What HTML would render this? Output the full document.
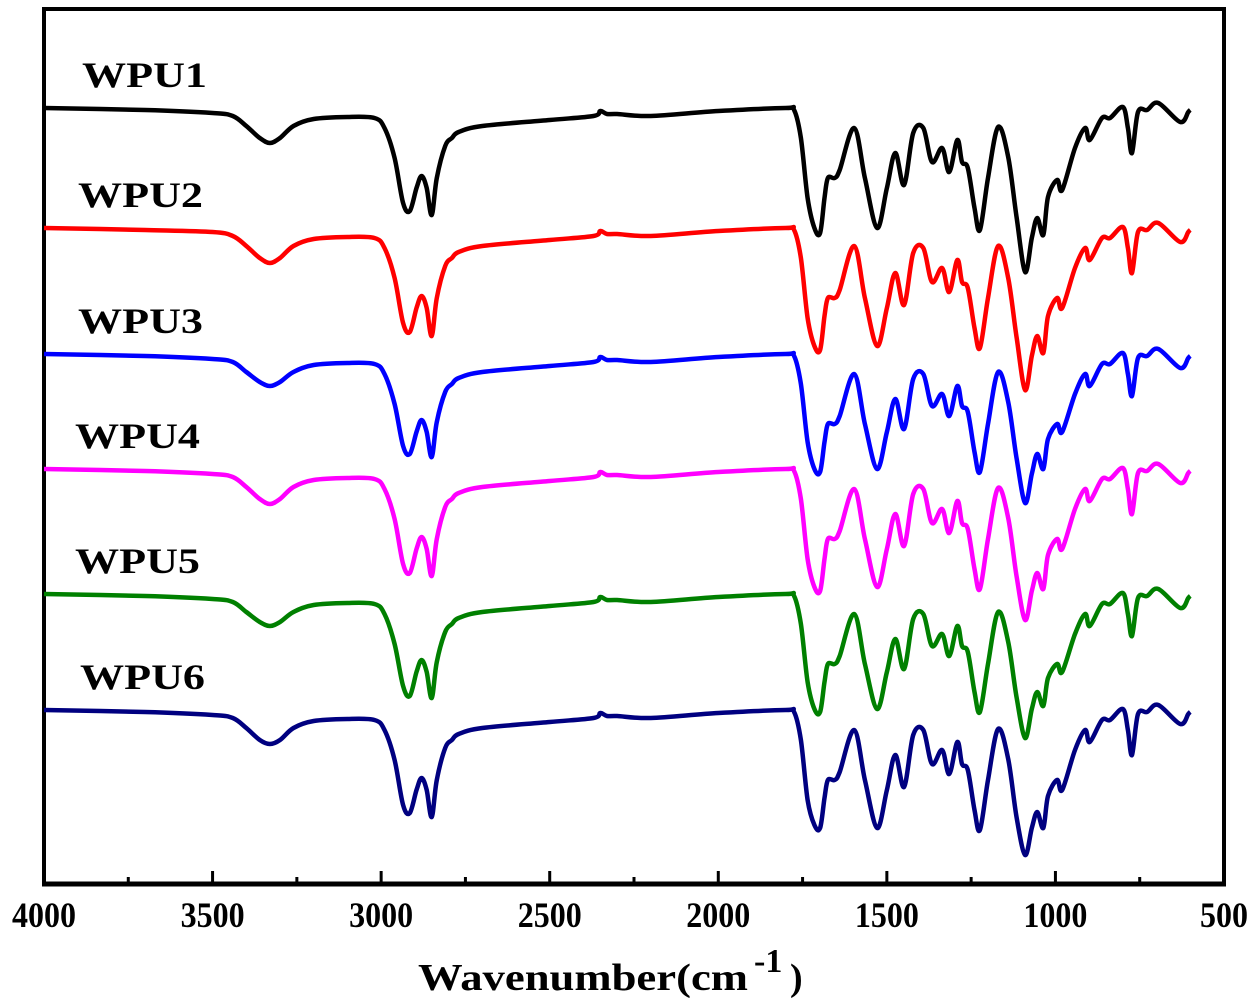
<!DOCTYPE html>
<html><head><meta charset="utf-8"><style>
html,body{margin:0;padding:0;background:#fff;}
svg{display:block;}
text{font-family:"Liberation Serif",serif;font-weight:bold;fill:#000;}
</style></head><body>
<svg id="chart" width="1257" height="1001" viewBox="0 0 1257 1001" xmlns="http://www.w3.org/2000/svg">
<rect x="44" y="9" width="1180" height="875" fill="none" stroke="#000" stroke-width="4"/>
<line x1="42" y1="884" x2="1226" y2="884" stroke="#000" stroke-width="5"/>
<g id="ticks"></g>
<g id="ticklabels"></g>
<text x="418" y="990" font-size="38" textLength="330" lengthAdjust="spacingAndGlyphs">Wavenumber(cm</text>
<text x="754" y="972" font-size="34">-1</text>
<text x="790" y="990" font-size="38">)</text>
<g id="series"></g>
<g id="labels"></g>
</svg>
<script>
const wavenumbers=[4000,3700,3500,3440,3400,3360,3330,3300,3260,3200,3100,3020,2990,2960,2935,2915,2895,2880,2865,2850,2835,2810,2790,2770,2700,2500,2370,2350,2330,2300,2200,2000,1800,1775,1755,1735,1715,1698,1685,1675,1655,1640,1597,1565,1529,1500,1475,1449,1422,1392,1366,1336,1315,1291,1277,1260,1240,1224,1200,1170,1140,1115,1090,1070,1054,1036,1022,995,980,942,912,898,862,838,800,785,773,755,728,695,630,606,600];
const wpu1=[0,2,5,8,18,30,35,30,18,11,9,10,20,50,95,103,80,68,80,107,70,38,30,24,18,12,8,3,6,6,8,3,0,2,30,90,120,125,90,70,70,62,20,70,120,80,45,77,25,20,54,40,64,32,54,60,100,122,70,19,49,110,164,130,110,127,89,72,82,40,20,32,10,10,-1,20,45,4,2,-5,14,4,2];
const wpu2=[0,2,4,8,18,30,35,30,18,11,9,10,20,50,95,104,80,68,80,108,70,38,30,24,18,12,8,3,6,6,8,3,0,2,30,90,118,122,88,70,70,62,18,70,118,80,45,77,25,20,54,40,64,32,54,60,100,120,70,18,50,110,162,128,108,125,88,70,80,40,20,32,10,10,-1,20,45,4,2,-5,14,4,2];
const wpu3=[0,2,5,8,18,28,32,28,18,11,9,10,20,50,92,100,78,66,78,103,68,38,30,24,18,12,8,3,6,6,8,3,0,2,30,88,115,118,88,70,70,62,20,70,115,78,45,75,25,20,52,40,62,32,52,58,98,118,70,18,48,105,149,120,100,115,85,70,78,40,20,32,10,10,-1,20,42,4,2,-5,14,4,2];
const wpu4=[0,2,5,8,18,30,35,30,18,11,9,10,20,50,95,104,80,68,80,107,70,38,30,24,18,12,8,3,6,6,8,3,0,2,30,90,118,122,90,70,70,62,20,70,118,80,45,77,25,20,54,40,64,32,54,60,100,120,70,19,49,108,151,122,104,120,86,70,80,40,20,32,10,10,-1,20,45,4,2,-5,14,4,2];
const wpu5=[0,2,5,8,18,28,32,28,18,11,9,10,20,50,92,102,78,66,78,104,68,38,30,24,18,12,8,3,6,6,8,3,0,2,30,88,115,118,88,70,70,62,20,70,115,78,45,75,25,20,52,40,62,32,52,58,98,118,70,18,48,104,144,115,98,112,84,70,78,40,20,32,10,10,-1,20,42,4,2,-5,14,4,2];
const wpu6=[0,2,5,8,18,30,34,30,18,11,9,10,20,50,95,103,80,68,80,107,70,38,30,24,18,12,8,3,6,6,8,3,0,2,30,90,115,118,88,70,70,62,20,70,118,80,45,77,25,20,54,40,64,32,54,60,100,120,70,19,49,108,145,118,102,118,86,70,80,40,20,32,10,10,-1,20,45,4,2,-5,14,4,2];
const seriesNames=["WPU1","WPU2","WPU3","WPU4","WPU5","WPU6"];
const offsets=[0,120,246,361,486,602];
const majorTicks=[4000,3500,3000,2500,2000,1500,1000,500];
const tickLabels=["4000","3500","3000","2500","2000","1500","1000","500"];
const minorTicks=[3750,3250,2750,2250,1750,1250,750];

const colors=["#000000","#ff0000","#0000ff","#ff00ff","#008000","#000080"];
const labelX=[82,78,78,75,75,80];
const allSeries=[wpu1,wpu2,wpu3,wpu4,wpu5,wpu6];
const NS="http://www.w3.org/2000/svg";
function xScale(w){return 44+(4000-w)*(1180/3500);}
function yScale(v,i){return 108+offsets[i]+v;}
function smoothPath(pts){
  let d="M"+pts[0][0].toFixed(1)+","+pts[0][1].toFixed(1);
  for(let k=0;k<pts.length-1;k++){
    const p0=pts[Math.max(k-1,0)],p1=pts[k],p2=pts[k+1],p3=pts[Math.min(k+2,pts.length-1)];
    const c1=[p1[0]+(p2[0]-p0[0])/6,p1[1]+(p2[1]-p0[1])/6];
    const c2=[p2[0]-(p3[0]-p1[0])/6,p2[1]-(p3[1]-p1[1])/6];
    d+="C"+c1[0].toFixed(1)+","+c1[1].toFixed(1)+" "+c2[0].toFixed(1)+","+c2[1].toFixed(1)+" "+p2[0].toFixed(1)+","+p2[1].toFixed(1);
  }
  return d;
}
const tg=document.getElementById("ticks"),lg=document.getElementById("ticklabels");
majorTicks.forEach((w,i)=>{
  const l=document.createElementNS(NS,"line");
  
  
  l.setAttribute("x1",xScale(w));l.setAttribute("x2",xScale(w));
  l.setAttribute("y1",884);l.setAttribute("y2",871);
  l.setAttribute("stroke","#000");l.setAttribute("stroke-width","3");
  tg.appendChild(l);
  const t=document.createElementNS(NS,"text");
  
  
  t.setAttribute("x",xScale(w));t.setAttribute("y",927);
  t.setAttribute("text-anchor","middle");t.setAttribute("font-size","36");
  t.setAttribute("textLength",tickLabels[i].length*16);
  t.setAttribute("lengthAdjust","spacingAndGlyphs");
  t.textContent=tickLabels[i];
  lg.appendChild(t);
});
minorTicks.forEach(w=>{
  const l=document.createElementNS(NS,"line");
  
  
  l.setAttribute("x1",xScale(w));l.setAttribute("x2",xScale(w));
  l.setAttribute("y1",884);l.setAttribute("y2",877);
  l.setAttribute("stroke","#000");l.setAttribute("stroke-width","3");
  tg.appendChild(l);
});
const sg=document.getElementById("series"),lab=document.getElementById("labels");
allSeries.forEach((vals,i)=>{
  const pts=wavenumbers.map((w,k)=>[xScale(w),yScale(vals[k],i)]);
  const p=document.createElementNS(NS,"path");
  
  
  p.setAttribute("d",smoothPath(pts));
  p.setAttribute("fill","none");p.setAttribute("stroke",colors[i]);
  p.setAttribute("stroke-width","4.5");p.setAttribute("stroke-linejoin","round");
  sg.appendChild(p);
  const t=document.createElementNS(NS,"text");
  
  
  t.setAttribute("x",labelX[i]);t.setAttribute("y",yScale(0,i)-21);
  t.setAttribute("font-size","36");
  t.setAttribute("textLength","125");t.setAttribute("lengthAdjust","spacingAndGlyphs");
  t.textContent=seriesNames[i];
  lab.appendChild(t);
});
</script>
</body></html>
